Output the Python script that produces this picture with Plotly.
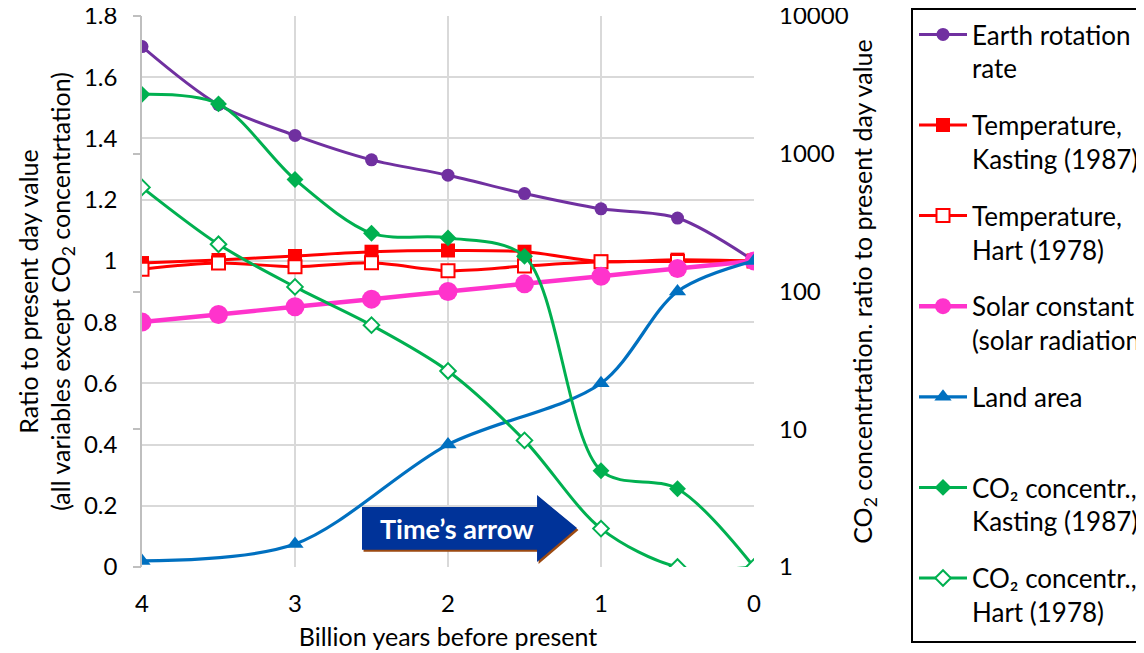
import plotly.graph_objects as go

# ---------------- data ----------------
years = [4, 3.5, 3, 2.5, 2, 1.5, 1, 0.5, 0]
rotation = [1.70, 1.51, 1.41, 1.33, 1.28, 1.22, 1.17, 1.14, 1.0]
temp_kasting = [0.993, 1.003, 1.016, 1.03, 1.034, 1.03, 0.998, 1.004, 1.0]
temp_hart = [0.973, 0.993, 0.981, 0.994, 0.968, 0.983, 0.997, 0.998, 1.0]
solar = [0.80, 0.825, 0.85, 0.875, 0.90, 0.925, 0.95, 0.975, 1.0]
land_years = [4, 3, 2, 1, 0.5, 0]
land = [0.02, 0.075, 0.40, 0.60, 0.90, 1.0]
co2_kasting = [2700, 2300, 650, 265, 245, 180, 5.0, 3.7, 1.0]
co2_hart = [570, 220, 108, 57, 26.5, 8.3, 1.9, 1.0, 1.0]

names = [
    "Earth rotation<br>rate",
    "Temperature,<br>Kasting (1987)",
    "Temperature,<br>Hart (1978)",
    "Solar constant<br>(solar radiation)",
    "Land area<br>&nbsp;",
    "CO₂ concentr.,<br>Kasting (1987)",
    "CO₂ concentr.,<br>Hart (1978)",
]

x_ticks = [0, 1, 2, 3, 4]
y_ticks = [0, 0.2, 0.4, 0.6, 0.8, 1.0, 1.2, 1.4, 1.6, 1.8]
y2_ticks = [1, 10, 100, 1000, 10000]

# annotation arrow outline (x in billion years, y in left-axis units)
arrow_x = [2.562, 1.418, 1.418, 1.157, 1.418, 1.418, 2.562]
arrow_y = [0.196, 0.196, 0.235, 0.127, 0.016, 0.056, 0.056]

FONT = "Lato, 'Open Sans', sans-serif"
PURPLE = "#7030A0"
RED = "#FF0000"
PINK = "#FF33CC"
BLUE = "#0070C0"
GREEN = "#00B050"

fig = go.Figure()

def add(x, y, name, color, width, symbol, size, fill=None, yaxis="y", group="g"):
    fig.add_trace(go.Scatter(
        x=x, y=y, name=name, mode="lines+markers", yaxis=yaxis,
        legendgroup=group,
        line=dict(color=color, width=width, shape="spline", smoothing=0.9),
        marker=dict(symbol=symbol, size=size,
                    color=fill if fill else color,
                    line=dict(color=color, width=2 if fill else 0)),
    ))

add(years, rotation, names[0], PURPLE, 3, "circle", 13, group="g1")
add(years, temp_kasting, names[1], RED, 3, "square", 14, group="g2")
add(years, temp_hart, names[2], RED, 3, "square", 13, fill="white", group="g3")
add(years, solar, names[3], PINK, 4.5, "circle", 19, group="g4")
add(land_years, land, names[4], BLUE, 3.2, "triangle-up", 15, group="g5")
add(years, co2_kasting, names[5], GREEN, 3, "diamond", 13, yaxis="y2", group="g6")
add(years, co2_hart, names[6], GREEN, 3, "diamond", 12, fill="white", yaxis="y2", group="g7")

# Time's arrow block
def path_from(xs, ys, dx=0.0, dy=0.0):
    return "M " + " L ".join(f"{x+dx},{y+dy}" for x, y in zip(xs, ys)) + " Z"

fig.add_shape(type="path", xref="x", yref="y",
              path=path_from(arrow_x, arrow_y, dx=-0.01, dy=-0.006),
              fillcolor="#9C4A12", line=dict(width=0), layer="above")
fig.add_shape(type="path", xref="x", yref="y",
              path=path_from(arrow_x, arrow_y),
              fillcolor="#003399", line=dict(width=0), layer="above")
fig.add_annotation(x=1.944, y=0.126, xref="x", yref="y", text="<b>Time’s arrow</b>",
                   showarrow=False, font=dict(family=FONT, size=27, color="white"))

# page has an 8px body margin: figure sized to fit window exactly
W, H = 1136, 645
L, T = 134, 8
PW, PH = 612, 551

# legend frame (page pixels -> paper coords)
box_l, box_t, box_r, box_b = 912 - 8, 8 - 8, 1150, 642 - 8
fig.add_shape(type="rect", xref="paper", yref="paper",
              x0=(box_l - L) / PW, x1=(box_r - L) / PW,
              y0=(T + PH - box_b) / PH, y1=(T + PH - box_t - 1) / PH,
              line=dict(color="black", width=2), fillcolor="rgba(0,0,0,0)")

grid = "#D9D9D9"
fig.update_layout(
    width=W, height=H,
    paper_bgcolor="white", plot_bgcolor="white",
    margin=dict(l=L, r=W - L - PW, t=T, b=H - T - PH, autoexpand=False),
    font=dict(family=FONT, size=24, color="black"),
    showlegend=True,
    legend=dict(
        x=(box_l + 2 - L) / PW, y=(PH + T - 3) / PH, xanchor="left", yanchor="top",
        borderwidth=0, bgcolor="rgba(0,0,0,0)",
        font=dict(family=FONT, size=26, color="black"),
        valign="top", tracegroupgap=20, itemwidth=48,
        traceorder="grouped", maxheight=2000,
    ),
    xaxis=dict(
        range=[4, 0], tickvals=x_ticks, ticktext=[str(v) for v in x_ticks],
        showgrid=True, gridcolor=grid, gridwidth=1.5, zeroline=False,
        showline=False, ticks="", ticklabelstandoff=20, ticklabeloverflow="allow",
        title=dict(text="Billion years before present", standoff=12,
                   font=dict(size=25)),
        tickfont=dict(size=24),
    ),
    yaxis=dict(
        range=[0, 1.8], tickvals=y_ticks,
        ticktext=[f"{v:g}" for v in y_ticks],
        showgrid=True, gridcolor=grid, gridwidth=1.5, zeroline=False,
        showline=True, linecolor="#BFBFBF", linewidth=1.5, ticks="",
        ticklabelstandoff=18, ticklabeloverflow="allow",
        title=dict(text="Ratio to present day value<br>(all variables except CO<sub>2</sub> concentrtation)",
                   standoff=6, font=dict(size=25)),
        tickfont=dict(size=24),
    ),
    yaxis2=dict(
        type="log", range=[0, 4], overlaying="y", side="right",
        tickvals=y2_ticks, ticktext=[str(v) for v in y2_ticks],
        showgrid=False, zeroline=False, showline=False, ticks="",
        ticklabelstandoff=24, ticklabeloverflow="allow",
        title=dict(text="CO<sub>2</sub> concentrtation. ratio to present day value",
                   standoff=6, font=dict(size=25)),
        tickfont=dict(size=24),
    ),
    yaxis3=dict(
        type="log", range=[0, 4], overlaying="y", side="left", anchor="x",
        tickvals=y2_ticks, showticklabels=False, showgrid=False, zeroline=False,
        ticks="outside", ticklen=8, tickcolor="#BFBFBF", tickwidth=1.5,
    ),
)
# invisible trace so the left-side log tick marks are drawn
fig.add_trace(go.Scatter(x=[0], y=[1], yaxis="y3", mode="markers",
                         marker=dict(opacity=0), showlegend=False, hoverinfo="skip"))

fig.write_html("out.html")
